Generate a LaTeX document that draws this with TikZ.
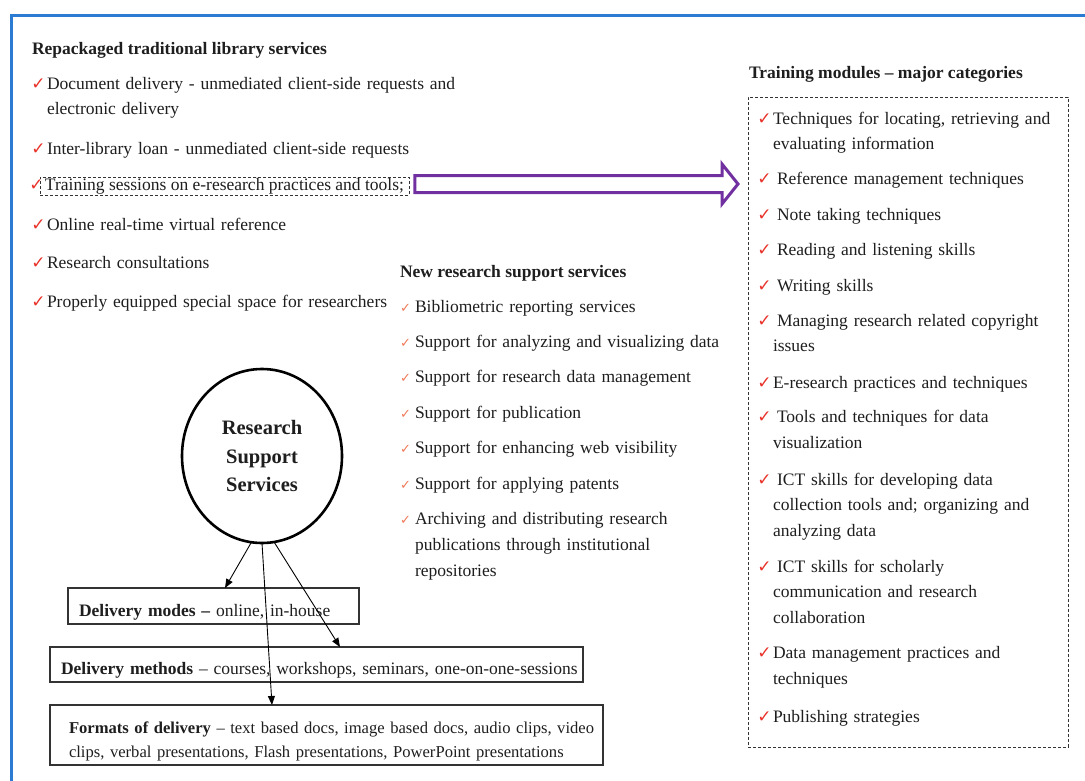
\documentclass[tikz,border=0pt]{standalone}
\usepackage{fontspec}
\setmainfont{Liberation Serif}
\newfontfamily\dejavu{DejaVu Sans}
\usetikzlibrary{shapes.geometric,calc,arrows.meta}
\definecolor{frameblue}{HTML}{2B7BD3}
\definecolor{arrowpurple}{HTML}{7030A0}
\definecolor{ckred}{HTML}{E8332A}
\definecolor{cklight}{HTML}{F07A5A}
\definecolor{txt}{HTML}{1E1E1E}
\definecolor{boxline}{HTML}{333333}
\newcommand\ckmark{\llap{{\dejavu\fontsize{17}{17}\selectfont\textcolor{ckred}{✓}}\hspace{1.5pt}}}
\newcommand\cksmall{\llap{{\dejavu\fontsize{13}{13}\selectfont\textcolor{cklight}{✓}}\hspace{4pt}}}
\begin{document}
\begin{tikzpicture}[x=1pt,y=-1pt,
  every node/.style={inner sep=0pt, outer sep=0pt, text=txt},
  body/.style={font=\fontsize{17.5}{25}\selectfont, anchor=base west, align=left, text width=#1},
  body/.default=360,
  head/.style={font=\bfseries\fontsize{17.5}{21}\selectfont, anchor=base west},
  dashbox/.style={draw=boxline, dashed, dash pattern=on 3pt off 2pt, line width=0.9pt},
  infobox/.style={draw=boxline, line width=1.1pt, anchor=north west, align=left,
     font=\fontsize{17.5}{24}\selectfont},
  conn/.style={draw=black, line width=0.9pt, -{Triangle[length=9pt,width=7pt]}},
  parrow/.style={draw=arrowpurple, line width=3pt, fill=white, line join=miter},
  hub/.style={ellipse, draw=black, line width=2.6pt, minimum width=160, minimum height=174,
     align=center, font=\bfseries\fontsize{20.5}{28.5}\selectfont}
]
\useasboundingbox (0,0) rectangle (1085,780);
\draw[frameblue, line width=3pt] (11,15) rectangle (1110,810);

% ---------- left column ----------
\node[head] (h1) at (32,54) {Repackaged traditional library services};
\node[body=420] (l1) at (47,89) {\ckmark Document delivery - unmediated client-side requests and\\electronic delivery};
\node[body=420] (l2) at (47,154) {\ckmark Inter-library loan - unmediated client-side requests};
\node[dashbox, anchor=base west, inner xsep=5pt, text height=13, text depth=5,
      font=\fontsize{17.5}{25}\selectfont] (train) at (40,190)
      {\ckmark Training sessions on e-research practices and tools;};
\node[body] (l4) at (47,230) {\ckmark Online real-time virtual reference};
\node[body] (l5) at (47,268) {\ckmark Research consultations};
\node[body] (l6) at (47,307) {\ckmark \mbox{Properly equipped special space for researchers}};

% ---------- middle column ----------
\node[head] (h2) at (400,277) {New research support services};
\node[body, font=\fontsize{17.5}{26}\selectfont] (m1) at (415,312) {\cksmall Bibliometric reporting services};
\node[body, font=\fontsize{17.5}{26}\selectfont] (m2) at (415,347) {\cksmall Support for analyzing and visualizing data};
\node[body, font=\fontsize{17.5}{26}\selectfont] (m3) at (415,382) {\cksmall Support for research data management};
\node[body, font=\fontsize{17.5}{26}\selectfont] (m4) at (415,418) {\cksmall Support for publication};
\node[body, font=\fontsize{17.5}{26}\selectfont] (m5) at (415,453) {\cksmall Support for enhancing web visibility};
\node[body, font=\fontsize{17.5}{26}\selectfont] (m6) at (415,489) {\cksmall Support for applying patents};
\node[body, font=\fontsize{17.5}{26}\selectfont] (m7) at (415,524) {\cksmall Archiving and distributing research\\publications through institutional\\repositories};

% ---------- right column ----------
\node[head] (h3) at (749,78) {Training modules – major categories};
\node[dashbox, anchor=north west, minimum width=320, minimum height=650] (tbox) at (748,97) {};
\node[body=290, font=\fontsize{17.5}{25.5}\selectfont] (r1) at (773,124) {\ckmark Techniques for locating, retrieving and\\evaluating information};
\node[body=290] (r2) at (773,184) {\ckmark\hspace{4pt}Reference management techniques};
\node[body=290] (r3) at (773,220) {\ckmark\hspace{4pt}Note taking techniques};
\node[body=290] (r4) at (773,255) {\ckmark\hspace{4pt}Reading and listening skills};
\node[body=290] (r5) at (773,291) {\ckmark\hspace{4pt}Writing skills};
\node[body=290, font=\fontsize{17.5}{25.5}\selectfont] (r6) at (773,326) {\ckmark\hspace{4pt}Managing research related copyright\\issues};
\node[body=290] (r7) at (773,388) {\ckmark E-research practices and techniques};
\node[body=290, font=\fontsize{17.5}{26}\selectfont] (r8) at (773,422) {\ckmark\hspace{4pt}Tools and techniques for data\\visualization};
\node[body=290, font=\fontsize{17.5}{25.5}\selectfont] (r9) at (773,485) {\ckmark\hspace{4pt}ICT skills for developing data\\collection tools and; organizing and\\analyzing data};
\node[body=290, font=\fontsize{17.5}{25.5}\selectfont] (r10) at (773,572) {\ckmark\hspace{4pt}ICT skills for scholarly\\communication and research\\collaboration};
\node[body=290, font=\fontsize{17.5}{26}\selectfont] (r11) at (773,658) {\ckmark Data management practices and\\techniques};
\node[body=290] (r12) at (773,722) {\ckmark Publishing strategies};

% ---------- purple block arrow ----------
\coordinate (pa) at ([xshift=6pt]train.east);
\path (tbox.west |- pa) coordinate (pb0);
\coordinate (pb) at ($(pb0)+(-10,-2)$);
\coordinate (pa2) at ($(pa)+(0,-2)$);
\draw[parrow] ($(pa2)+(0,-8.5)$) -- ($(pb)+(-16,-8.5)$) -- ($(pb)+(-16,-20)$) -- (pb)
   -- ($(pb)+(-16,20)$) -- ($(pb)+(-16,8.5)$) -- ($(pa2)+(0,8.5)$) -- cycle;

% ---------- hub and delivery boxes ----------
\node[hub] (rss) at (262,456) {Research\\Support\\Services};

\node[infobox, minimum width=291, minimum height=36, inner xsep=11pt, text width=269,
      text height=21, text depth=0] (modes) at (68,588)
      {\textbf{Delivery modes –} online, in-house};
\node[infobox, minimum width=533, minimum height=35, inner xsep=11pt, text width=511,
      text height=19, text depth=0] (methods) at (50,647)
      {\mbox{\textbf{Delivery methods} – courses, workshops, seminars, one-on-one-sessions}};
\node[infobox, minimum width=553, minimum height=60, inner xsep=19pt, text width=515,
      text height=20, text depth=24, font=\fontsize{16.6}{24}\selectfont] (formats) at (50,705)
      {\mbox{\textbf{Formats of delivery} – text based docs, image based docs, audio clips, video}\\\mbox{clips, verbal presentations, Flash presentations, PowerPoint presentations}};

\draw[conn] (rss.-97) -- ([xshift=157pt]modes.north west);
\draw[conn] (rss.-90) -- ([xshift=222pt]formats.north west);
\draw[conn] (rss.-82) -- ([xshift=290pt]methods.north west);
\end{tikzpicture}
\end{document}
